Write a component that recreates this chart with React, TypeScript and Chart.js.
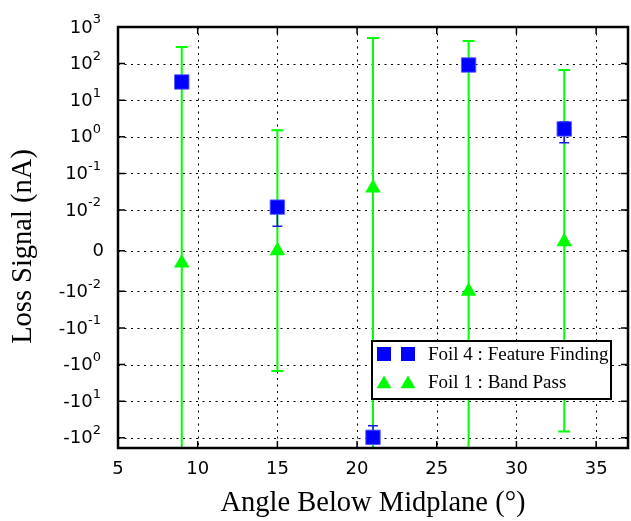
import React, { useEffect, useRef } from 'react';
import { Chart, registerables } from 'chart.js';

Chart.register(...registerables);

// ---- data ----
const ANGLES = [9, 15, 21, 27, 33];
const FOIL4_SIGNAL = [31.5, 0.012, -97, 91.6, 1.64];
const FOIL4_ERROR = [5, 0.006, 50, 10, 0.95];
const FOIL1_SIGNAL = [-0.003, 0, 0.04, -0.01, 0.0022];
const FOIL1_ERROR = [284, 1.5, 500, 415, 67];
const SERIES_LABELS = ['Foil 4 : Feature Finding', 'Foil 1 : Band Pass'];

const X_TICKS = [5, 10, 15, 20, 25, 30, 35];
const X_MIN = 5;
const X_MAX = 37;
const Y_TICK_VALUES = [1000, 100, 10, 1, 0.1, 0.01, 0, -0.01, -0.1, -1, -10, -100];
const Y_TICK_BASES = ['10', '10', '10', '10', '10', '10', '0', '-10', '-10', '-10', '-10', '-10'];
const Y_TICK_EXPONENTS = ['3', '2', '1', '0', '-1', '-2', '', '-2', '-1', '0', '1', '2'];
const Y_MIN = -190;
const Y_MAX = 1000;

const X_TITLE = 'Angle Below Midplane (\u00b0)';
const Y_TITLE = 'Loss Signal (nA)';

// symmetric log transform (linthresh 0.01, linscale 1, base 10)
const LINTHRESH = 0.01;
const LINSCALE_ADJ = 1 / (1 - 1 / 10);
function symlog(v: number): number {
  const a = Math.abs(v);
  if (a <= LINTHRESH) return (v * LINSCALE_ADJ) / LINTHRESH;
  return Math.sign(v) * (LINSCALE_ADJ + Math.log10(a / LINTHRESH));
}

const BLUE = '#0000ff';
const GREEN = '#00ff00';
const SERIF = '"Liberation Serif", "DejaVu Serif", serif';
const SANS = '"DejaVu Sans", sans-serif';

const ERRORS = [FOIL4_ERROR, FOIL1_ERROR];
const VALUES = [FOIL4_SIGNAL, FOIL1_SIGNAL];
const ERR_STYLE = [
  { color: '#1a1ae0', width: 1.5, cap: 5 },
  { color: GREEN, width: 2, cap: 6 },
];

function drawSquare(ctx: CanvasRenderingContext2D, x: number, y: number, s: number, c: string) {
  ctx.fillStyle = c;
  ctx.fillRect(x - s / 2, y - s / 2, s, s);
}
function drawTriangle(ctx: CanvasRenderingContext2D, x: number, y: number, r: number, c: string) {
  ctx.fillStyle = c;
  ctx.beginPath();
  ctx.moveTo(x, y - r);
  ctx.lineTo(x + r * 0.866, y + r / 2);
  ctx.lineTo(x - r * 0.866, y + r / 2);
  ctx.closePath();
  ctx.fill();
}

const decorPlugin = {
  id: 'symlogDecor',
  beforeDatasetsDraw(chart: any) {
    const { ctx, chartArea: a, scales } = chart;
    ctx.save();
    ctx.strokeStyle = '#000';
    ctx.lineWidth = 1;
    ctx.setLineDash([2, 4.5]);
    X_TICKS.forEach((t) => {
      const px = Math.round(scales.x.getPixelForValue(t)) + 0.5;
      ctx.beginPath();
      ctx.moveTo(px, a.top);
      ctx.lineTo(px, a.bottom);
      ctx.stroke();
    });
    Y_TICK_VALUES.forEach((v) => {
      const py = Math.round(scales.y.getPixelForValue(symlog(v))) + 0.5;
      ctx.beginPath();
      ctx.moveTo(a.left, py);
      ctx.lineTo(a.right, py);
      ctx.stroke();
    });
    ctx.restore();
  },
  beforeDatasetDraw(chart: any, args: any) {
    const i = args.index;
    const { ctx, chartArea: a, scales } = chart;
    const st = ERR_STYLE[i];
    ctx.save();
    ctx.beginPath();
    ctx.rect(a.left, a.top, a.right - a.left, a.bottom - a.top);
    ctx.clip();
    ctx.strokeStyle = st.color;
    ctx.lineWidth = st.width;
    ANGLES.forEach((x, k) => {
      const v = VALUES[i][k];
      const e = ERRORS[i][k];
      const px = scales.x.getPixelForValue(x);
      const pHi = scales.y.getPixelForValue(symlog(v + e));
      const pLo = scales.y.getPixelForValue(symlog(v - e));
      ctx.beginPath();
      ctx.moveTo(px, pHi);
      ctx.lineTo(px, pLo);
      ctx.moveTo(px - st.cap, pHi);
      ctx.lineTo(px + st.cap, pHi);
      ctx.moveTo(px - st.cap, pLo);
      ctx.lineTo(px + st.cap, pLo);
      ctx.stroke();
    });
    ctx.restore();
  },
  afterDatasetsDraw(chart: any) {
    const { ctx, chartArea: a, scales } = chart;
    ctx.save();
    // inside tick marks
    ctx.strokeStyle = '#000';
    ctx.lineWidth = 1.5;
    X_TICKS.forEach((t) => {
      const px = scales.x.getPixelForValue(t);
      ctx.beginPath();
      ctx.moveTo(px, a.bottom);
      ctx.lineTo(px, a.bottom - 7);
      ctx.moveTo(px, a.top);
      ctx.lineTo(px, a.top + 7);
      ctx.stroke();
    });
    Y_TICK_VALUES.forEach((v) => {
      const py = scales.y.getPixelForValue(symlog(v));
      ctx.beginPath();
      ctx.moveTo(a.left, py);
      ctx.lineTo(a.left + 7, py);
      ctx.moveTo(a.right, py);
      ctx.lineTo(a.right - 7, py);
      ctx.stroke();
    });
    // frame
    ctx.lineWidth = 2.5;
    ctx.strokeRect(a.left, a.top, a.right - a.left, a.bottom - a.top);

    // y tick labels with superscripts
    ctx.fillStyle = '#000';
    ctx.textBaseline = 'middle';
    Y_TICK_VALUES.forEach((v, k) => {
      const py = scales.y.getPixelForValue(symlog(v));
      const base = Y_TICK_BASES[k];
      const exp = Y_TICK_EXPONENTS[k];
      const right = a.left - 17;
      if (!exp) {
        ctx.font = `18px ${SANS}`;
        ctx.textAlign = 'right';
        ctx.fillText(base, right + 3, py + 1);
        return;
      }
      ctx.font = `13px ${SANS}`;
      const ew = ctx.measureText(exp).width;
      ctx.textAlign = 'left';
      ctx.fillText(exp, right - ew, py - 7);
      ctx.font = `18px ${SANS}`;
      ctx.textAlign = 'right';
      ctx.fillText(base, right - ew, py + 1);
    });

    // axis titles
    ctx.font = `28.5px ${SERIF}`;
    ctx.textAlign = 'center';
    ctx.textBaseline = 'middle';
    ctx.fillText(X_TITLE, (a.left + a.right) / 2, 504);
    ctx.save();
    ctx.translate(24, (a.top + a.bottom) / 2 + 9);
    ctx.rotate(-Math.PI / 2);
    ctx.fillText(Y_TITLE, 0, 0);
    ctx.restore();

    // legend
    const lx = 372, ly = 341, lw = 239, lh = 58;
    ctx.fillStyle = '#fff';
    ctx.fillRect(lx, ly, lw, lh);
    ctx.strokeStyle = '#000';
    ctx.lineWidth = 2;
    ctx.strokeRect(lx, ly, lw, lh);
    drawSquare(ctx, 384, 354, 14, BLUE);
    drawSquare(ctx, 408, 354, 14, BLUE);
    drawTriangle(ctx, 384, 384, 8.5, GREEN);
    drawTriangle(ctx, 408, 384, 8.5, GREEN);
    ctx.fillStyle = '#000';
    ctx.font = `19px ${SERIF}`;
    ctx.textAlign = 'left';
    ctx.textBaseline = 'middle';
    ctx.fillText(SERIES_LABELS[0], 428, 355);
    ctx.fillText(SERIES_LABELS[1], 428, 383);
    ctx.restore();
  },
};

export default function App() {
  const ref = useRef<HTMLCanvasElement | null>(null);
  useEffect(() => {
    if (!ref.current) return;
    const chart = new Chart(ref.current, {
      type: 'scatter',
      data: {
        datasets: [
          {
            label: SERIES_LABELS[0],
            data: ANGLES.map((x, i) => ({ x, y: symlog(FOIL4_SIGNAL[i]) })),
            pointStyle: 'rect',
            pointRadius: 10.2,
            backgroundColor: BLUE,
            borderColor: 'rgba(90,90,255,0.9)',
            borderWidth: 1,
          },
          {
            label: SERIES_LABELS[1],
            data: ANGLES.map((x, i) => ({ x, y: symlog(FOIL1_SIGNAL[i]) })),
            pointStyle: 'triangle',
            pointRadius: 9,
            backgroundColor: GREEN,
            borderColor: GREEN,
            borderWidth: 0,
          },
        ],
      },
      options: {
        animation: false,
        responsive: false,
        devicePixelRatio: 1,
        layout: { autoPadding: false, padding: { top: 27, right: 3, left: 0, bottom: 0 } },
        plugins: { legend: { display: false }, tooltip: { enabled: false } },
        scales: {
          x: {
            type: 'linear',
            min: X_MIN,
            max: X_MAX,
            afterBuildTicks: (s: any) => {
              s.ticks = X_TICKS.map((v) => ({ value: v }));
            },
            afterFit: (s: any) => {
              s.height = 73;
              s.paddingLeft = 0;
              s.paddingRight = 0;
            },
            grid: { display: false },
            border: { display: false },
            ticks: {
              color: '#000',
              font: { family: SANS, size: 18 },
              padding: 3,
              maxRotation: 0,
              autoSkip: false,
            },
          },
          y: {
            type: 'linear',
            min: symlog(Y_MIN),
            max: symlog(Y_MAX),
            afterBuildTicks: (s: any) => {
              s.ticks = Y_TICK_VALUES.map((v) => ({ value: symlog(v) }));
            },
            afterFit: (s: any) => {
              s.width = 118;
              s.paddingTop = 0;
              s.paddingBottom = 0;
            },
            grid: { display: false },
            border: { display: false },
            ticks: { display: false },
          },
        },
      },
      plugins: [decorPlugin],
    } as any);
    return () => chart.destroy();
  }, []);
  return (
    <div style={{ position: 'absolute', left: 0, top: 0, width: 631, height: 521 }}>
      <canvas ref={ref} width={631} height={521} style={{ display: 'block' }} />
    </div>
  );
}
